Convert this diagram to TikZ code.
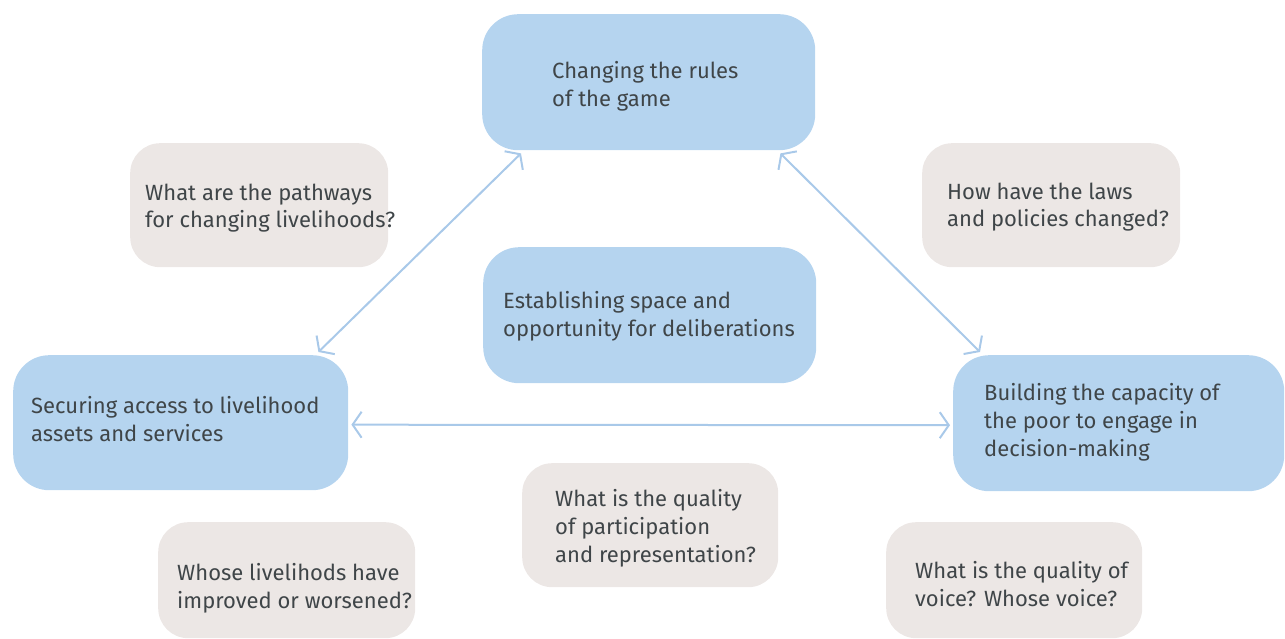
\documentclass[tikz,border=0pt]{standalone}
\usepackage{fontspec}
\setmainfont{Fira Sans}
\usetikzlibrary{arrows.meta}
\definecolor{boxblue}{HTML}{B5D4EF}
\definecolor{boxgrey}{HTML}{ECE7E5}
\definecolor{linkblue}{HTML}{A9C9E9}
\definecolor{inktext}{HTML}{3F4548}
\tikzset{
  bluebox/.style={fill=boxblue, draw=none, rounded corners=36pt, inner sep=0pt, anchor=north west},
  greybox/.style={fill=boxgrey, draw=none, rounded corners=30pt, inner sep=0pt, anchor=north west},
  % labels are placed by the baseline of their last line
  lbl/.style={text=inktext, inner sep=0pt, anchor=base west, align=left,
              font=\fontsize{22}{28}\selectfont},
  barb/.tip={Straight Barb[length=9pt,width=26pt]},
  link/.style={draw=linkblue, line width=2pt, {barb}-{barb}}
}
\begin{document}
\begin{tikzpicture}[x=1pt,y=-1pt]
  \useasboundingbox (0,0) rectangle (1285,639);

  % outcome boxes (blue)
  \node[bluebox, minimum width=333pt, minimum height=136pt] (rules) at (482,14) {};
  \node[bluebox, minimum width=333pt, minimum height=136pt] (space) at (483,247) {};
  \node[bluebox, minimum width=335pt, minimum height=135pt] (assets) at (13,355) {};
  \node[bluebox, minimum width=331pt, minimum height=136pt] (capacity) at (953,355) {};

  % question boxes (grey)
  \node[greybox, minimum width=258pt, minimum height=124pt] (qpath) at (130,143) {};
  \node[greybox, minimum width=258pt, minimum height=124pt] (qlaws) at (922,143) {};
  \node[greybox, minimum width=256pt, minimum height=124pt] (qpart) at (522,463) {};
  \node[greybox, minimum width=257pt, minimum height=116pt] (qwhose) at (158,522) {};
  \node[greybox, minimum width=256pt, minimum height=116pt] (qvoice) at (886,522) {};

  % labels
  \node[lbl] (rules-t) at (552,107) {Changing the rules\\of the game};
  \node[lbl] (space-t) at (503,336) {Establishing space and\\opportunity for deliberations};
  \node[lbl] (assets-t) at (31,441) {Securing access to livelihood\\assets and services};
  \node[lbl] (capacity-t) at (984,456) {Building the capacity of\\the poor to engage in\\decision-making};
  \node[lbl] (qpath-t) at (145,228) {What are the pathways\\for changing livelihoods?};
  \node[lbl] (qlaws-t) at (947,227) {How have the laws\\and policies changed?};
  \node[lbl] (qpart-t) at (555,562) {What is the quality\\of participation\\and representation?};
  \node[lbl] (qwhose-t) at (177,608) {Whose livelihods have\\improved or worsened?};
  \node[lbl] (qvoice-t) at (915,606) {What is the quality of\\voice? Whose voice?};

  % connector ends, just off the box edges
  \coordinate (r-sw) at ([shift={(39,3)}]rules.south west);
  \coordinate (r-se) at ([shift={(-35,3)}]rules.south east);
  \coordinate (a-ne) at ([shift={(-30,-3)}]assets.north east);
  \coordinate (a-e)  at ([shift={(3,2)}]assets.east);
  \coordinate (c-nw) at ([shift={(27,-3)}]capacity.north west);
  \coordinate (c-w)  at ([shift={(-3,2)}]capacity.west);

  \draw[link] (r-sw) -- (a-ne);
  \draw[link] (r-se) -- (c-nw);
  \draw[link] (a-e) -- (c-w);
\end{tikzpicture}
\end{document}
